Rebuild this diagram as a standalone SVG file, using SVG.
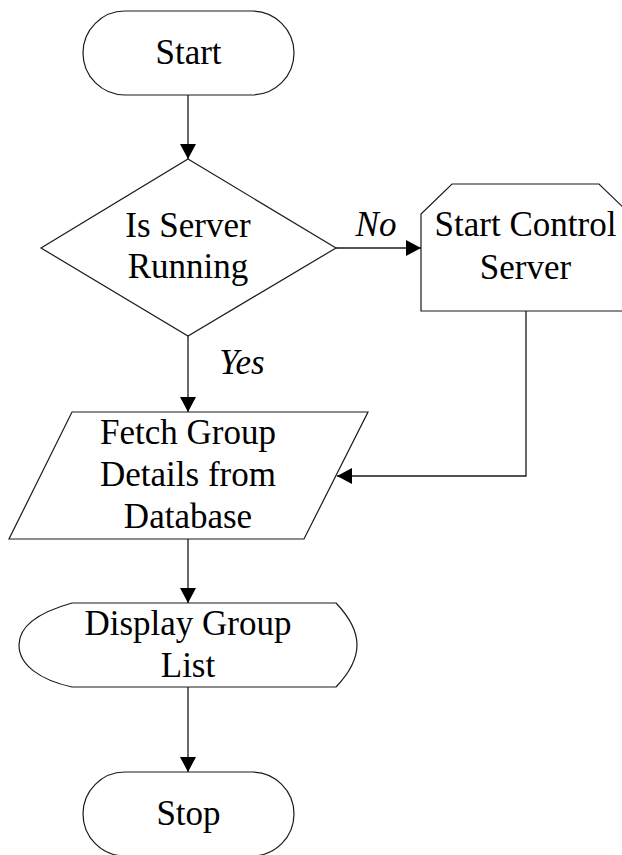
<svg xmlns="http://www.w3.org/2000/svg" width="622" height="855" viewBox="0 0 622 855">
  <style>
    .shape { fill: #ffffff; stroke: #1a1a1a; stroke-width: 1.2; }
    .edge { fill: none; stroke: #1a1a1a; stroke-width: 1.3; }
    .caption { font-family: "Liberation Serif", serif; font-size: 35px; fill: #000; text-anchor: middle; }
    .branch { font-family: "Liberation Serif", serif; font-size: 35px; font-style: italic; fill: #000; text-anchor: middle; }
  </style>
  <defs>
    <marker id="arrow" markerUnits="userSpaceOnUse" markerWidth="16" markerHeight="16" refX="15" refY="8" orient="auto">
      <path d="M0,0 L15,8 L0,16 Z" fill="#000"/>
    </marker>
  </defs>
  <rect width="622" height="855" fill="#ffffff"/>

  <!-- flow lines and branch labels -->
  <g id="connectors">
    <path class="edge" d="M188,95 V159" marker-end="url(#arrow)"/>
    <path class="edge" d="M336,248 H421" marker-end="url(#arrow)"/>
    <path class="edge" d="M188,336 V412" marker-end="url(#arrow)"/>
    <path class="edge" d="M526,311 V476 H337" marker-end="url(#arrow)"/>
    <path class="edge" d="M188,539 V603" marker-end="url(#arrow)"/>
    <path class="edge" d="M188,687 V772" marker-end="url(#arrow)"/>
    <text class="branch" x="376" y="236">No</text>
    <text class="branch" x="242" y="374">Yes</text>
  </g>

  <g id="start">
    <rect class="shape" x="83" y="11" width="211" height="84" rx="42" ry="42"/>
    <text class="caption" x="188.5" y="64">Start</text>
  </g>

  <g id="is-server-running">
    <polygon class="shape" points="188,159 336,248 188,336 41,248"/>
    <text class="caption" x="188" y="237">Is Server</text>
    <text class="caption" x="188" y="278">Running</text>
  </g>

  <g id="start-control-server">
    <polygon class="shape" points="452,184 599,184 630,214 630,311 421,311 421,214"/>
    <text class="caption" x="525.5" y="236">Start Control</text>
    <text class="caption" x="525.5" y="279">Server</text>
  </g>

  <g id="fetch-group-details">
    <polygon class="shape" points="72,412 368,412 304,539 9,539"/>
    <text class="caption" x="188" y="444">Fetch Group</text>
    <text class="caption" x="188" y="486">Details from</text>
    <text class="caption" x="188" y="528">Database</text>
  </g>

  <g id="display-group-list">
    <path class="shape" d="M72,603 H336 Q357,625 357,645 Q357,665 336,687 H72 C40,680 19,665 19,645 C19,625 40,612 72,603 Z"/>
    <text class="caption" x="188" y="635">Display Group</text>
    <text class="caption" x="188" y="677">List</text>
  </g>

  <g id="stop">
    <rect class="shape" x="83" y="772" width="211" height="84" rx="42" ry="42"/>
    <text class="caption" x="188.5" y="825">Stop</text>
  </g>
</svg>
